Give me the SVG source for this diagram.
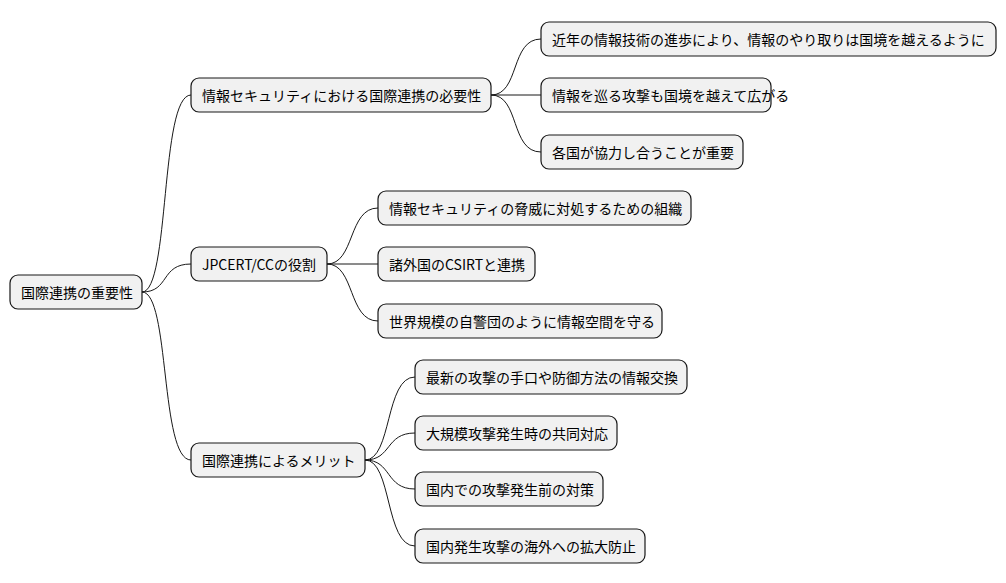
<svg xmlns="http://www.w3.org/2000/svg" width="1006" height="583" viewBox="0 0 1006 583">
<style>
.n rect{fill:#F1F1F1;stroke:#181818;stroke-width:1.2}
.n text{font-family:"Noto Sans CJK JP","Noto Sans",sans-serif;font-size:14px;fill:#000;dominant-baseline:central}
#c path{fill:none;stroke:#181818;stroke-width:1}
</style>
<rect width="1006" height="583" fill="#fff"/>
<g id="c">
<path d="M142,292 C170,292 160,95 191,95"/>
<path d="M142,292 C170,292 160,264 191,264"/>
<path d="M142,292 C170,292 160,460 191,460"/>
<path d="M491,95 C520,95 510,39 541,39"/>
<path d="M491,95 L541,95"/>
<path d="M491,95 C520,95 510,152 541,152"/>
<path d="M327,264 C355,264 348,208 378,208"/>
<path d="M327,264 L378,264"/>
<path d="M327,264 C355,264 348,321 378,321"/>
<path d="M365,460 C392,460 385,377 415,377"/>
<path d="M365,460 C392,460 385,433 415,433"/>
<path d="M365,460 C392,460 385,489 415,489"/>
<path d="M365,460 C392,460 385,546 415,546"/>
</g>
<g id="root" class="n"><rect x="10" y="275" width="132" height="34" rx="8"/><text x="21" y="292">国際連携の重要性</text></g>
<g id="a" class="n"><rect x="191" y="78" width="300" height="34" rx="8"/><text x="202" y="95">情報セキュリティにおける国際連携の必要性</text></g>
<g id="b" class="n"><rect x="191" y="247" width="136" height="34" rx="8"/><text x="202" y="264">JPCERT/CCの役割</text></g>
<g id="c1" class="n"><rect x="191" y="443" width="174" height="34" rx="8"/><text x="202" y="460">国際連携によるメリット</text></g>
<g id="a1" class="n"><rect x="541" y="22" width="455" height="34" rx="8"/><text x="552" y="39">近年の情報技術の進歩により、情報のやり取りは国境を越えるように</text></g>
<g id="a2" class="n"><rect x="541" y="78" width="230" height="34" rx="8"/><text x="552" y="95">情報を巡る攻撃も国境を越えて広がる</text></g>
<g id="a3" class="n"><rect x="541" y="135" width="202" height="34" rx="8"/><text x="552" y="152">各国が協力し合うことが重要</text></g>
<g id="b1" class="n"><rect x="378" y="191" width="313" height="34" rx="8"/><text x="389" y="208">情報セキュリティの脅威に対処するための組織</text></g>
<g id="b2" class="n"><rect x="378" y="247" width="157" height="34" rx="8"/><text x="389" y="264">諸外国のCSIRTと連携</text></g>
<g id="b3" class="n"><rect x="378" y="304" width="284" height="34" rx="8"/><text x="389" y="321">世界規模の自警団のように情報空間を守る</text></g>
<g id="c2" class="n"><rect x="415" y="360" width="272" height="34" rx="8"/><text x="426" y="377">最新の攻撃の手口や防御方法の情報交換</text></g>
<g id="c3" class="n"><rect x="415" y="416" width="202" height="34" rx="8"/><text x="426" y="433">大規模攻撃発生時の共同対応</text></g>
<g id="c4" class="n"><rect x="415" y="472" width="188" height="34" rx="8"/><text x="426" y="489">国内での攻撃発生前の対策</text></g>
<g id="c5" class="n"><rect x="415" y="529" width="230" height="34" rx="8"/><text x="426" y="546">国内発生攻撃の海外への拡大防止</text></g>
</svg>
